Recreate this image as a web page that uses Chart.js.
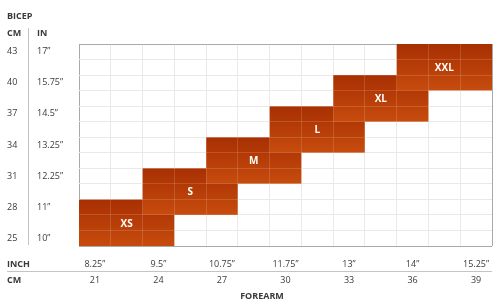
<!DOCTYPE html>
<html>
<head>
<meta charset="utf-8">
<script src="https://cdn.jsdelivr.net/npm/chart.js@4/dist/chart.umd.min.js"></script>
<style>
  html,body{margin:0;padding:0;background:#fff;}
  #c{display:block;}
</style>
</head>
<body>
<canvas id="c" width="500" height="308"></canvas>
<script>
// ---- data ----
const sizes       = ['XS', 'S', 'M', 'L', 'XL', 'XXL'];
const forearmMin  = [21, 24, 27, 30, 33, 36];
const forearmMax  = [24, 27, 30, 33, 36, 39];
const bicepMin    = [25, 28, 31, 34, 37, 40];
const bicepMax    = [28, 31, 34, 37, 40, 43];
const forearmCm   = [21, 24, 27, 30, 33, 36, 39];
const forearmIn   = ['8.25\u201D', '9.5\u201D', '10.75\u201D', '11.75\u201D', '13\u201D', '14\u201D', '15.25\u201D'];
const bicepCm     = [25, 28, 31, 34, 37, 40, 43];
const bicepIn     = ['10\u201D', '11\u201D', '12.25\u201D', '13.25\u201D', '14.5\u201D', '15.75\u201D', '17\u201D'];

const CELL = 1.5;          // cm per grid cell
const HALF = CELL / 2;
const xMin = forearmCm[0] - HALF, xMax = forearmCm[forearmCm.length - 1] + HALF;
const yMin = bicepCm[0] - HALF,   yMax = bicepCm[bicepCm.length - 1] + HALF;

const FONT = "'Open Sans', 'DejaVu Sans', sans-serif";
const TEXT = '#3a3a3a';

function cellTicks(scale) {
  const t = [];
  for (let v = scale.options.min; v <= scale.options.max + 1e-9; v += CELL) t.push({ value: v });
  scale.ticks = t;
}

function blockGradient(ctx) {
  const chart = ctx.chart;
  const i = ctx.datasetIndex;
  if (!chart.chartArea || i === undefined) return '#bb4008';
  const ys = chart.scales.y;
  const top = ys.getPixelForValue(bicepMax[i] + HALF);
  const bot = ys.getPixelForValue(bicepMin[i] - HALF);
  const g = chart.ctx.createLinearGradient(0, top, 0, bot);
  g.addColorStop(0, '#a82f02');
  g.addColorStop(1, '#c64c0e');
  return g;
}

const datasets = sizes.map((s, i) => {
  const x0 = forearmMin[i] - HALF, x1 = forearmMax[i] + HALF;
  const y0 = bicepMin[i] - HALF,   y1 = bicepMax[i] + HALF;
  return {
    label: s,
    data: [{x: x0, y: y0}, {x: x1, y: y0}, {x: x1, y: y1}, {x: x0, y: y1}, {x: x0, y: y0}],
    showLine: true,
    fill: 'shape',
    borderWidth: 0,
    borderColor: 'rgba(0,0,0,0)',
    pointRadius: 0,
    tension: 0,
    backgroundColor: blockGradient,
    order: sizes.length - i
  };
});

const decor = {
  id: 'decor',
  afterDraw(chart) {
    const ctx = chart.ctx;
    const xs = chart.scales.x, ys = chart.scales.y;
    ctx.save();
    // size labels
    ctx.fillStyle = '#ffffff';
    ctx.font = 'bold 10px ' + FONT;
    ctx.textAlign = 'center';
    ctx.textBaseline = 'middle';
    sizes.forEach((s, i) => {
      const cx = xs.getPixelForValue((forearmMin[i] + forearmMax[i]) / 2);
      const cy = ys.getPixelForValue((bicepMin[i] + bicepMax[i]) / 2);
      ctx.fillText(s, cx, cy + 1);
    });
    // titles
    ctx.fillStyle = TEXT;
    ctx.textAlign = 'left';
    ctx.font = 'bold 9px ' + FONT;
    ctx.fillText('BICEP', 7, 16);
    ctx.fillText('CM', 7, 33);
    ctx.fillText('IN', 37, 33);
    ctx.fillText('INCH', 7, 264);
    ctx.fillText('CM', 7, 280);
    ctx.textAlign = 'center';
    ctx.fillText('FOREARM', 262, 296);
    // y labels
    ctx.font = '9px ' + FONT;
    ctx.textAlign = 'left';
    bicepCm.forEach((v, i) => {
      const y = ys.getPixelForValue(v);
      ctx.fillText(String(v), 7, y);
      ctx.fillText(bicepIn[i], 37, y);
    });
    // x labels
    ctx.textAlign = 'center';
    forearmCm.forEach((v, i) => {
      const x = xs.getPixelForValue(v);
      ctx.fillText(forearmIn[i], x, 264);
      ctx.fillText(String(v), x, 280);
    });
    // separators
    ctx.strokeStyle = '#c4c4c4';
    ctx.lineWidth = 1;
    ctx.beginPath();
    ctx.moveTo(28.5, 28); ctx.lineTo(28.5, 245);
    ctx.moveTo(7, 271.5); ctx.lineTo(492, 271.5);
    ctx.stroke();
    ctx.restore();
  }
};

const baseGrid = (ctx) => {
  const s = ctx.scale;
  const v = ctx.tick && ctx.tick.value;
  if (Math.abs(v - s.options.min) < 1e-6 || Math.abs(v - s.options.max) < 1e-6) return '#a9a9a9';
  return '#e8e8e8';
};
const overGrid = (ctx) => {
  const s = ctx.scale;
  const v = ctx.tick && ctx.tick.value;
  if (Math.abs(v - s.options.min) < 1e-6 || Math.abs(v - s.options.max) < 1e-6) return 'rgba(0,0,0,0)';
  return 'rgba(255,235,220,0.16)';
};

new Chart(document.getElementById('c'), {
  type: 'scatter',
  data: { datasets },
  options: {
    responsive: false,
    devicePixelRatio: 1,
    animation: false,
    layout: { padding: { left: 79, top: 44, right: 8, bottom: 62 } },
    plugins: { legend: { display: false }, tooltip: { enabled: false } },
    scales: {
      x: {
        type: 'linear', min: xMin, max: xMax, position: 'bottom',
        ticks: { display: false }, border: { display: false },
        grid: { color: baseGrid, drawTicks: false, lineWidth: 1 },
        afterBuildTicks: cellTicks
      },
      y: {
        type: 'linear', min: yMin, max: yMax, position: 'left',
        ticks: { display: false }, border: { display: false },
        grid: { color: baseGrid, drawTicks: false, lineWidth: 1 },
        afterBuildTicks: cellTicks
      },
      x2: {
        type: 'linear', min: xMin, max: xMax, position: 'bottom',
        ticks: { display: false }, border: { display: false },
        grid: { color: overGrid, drawTicks: false, lineWidth: 1, z: 1 },
        afterBuildTicks: cellTicks
      },
      y2: {
        type: 'linear', min: yMin, max: yMax, position: 'left',
        ticks: { display: false }, border: { display: false },
        grid: { color: overGrid, drawTicks: false, lineWidth: 1, z: 1 },
        afterBuildTicks: cellTicks
      }
    }
  },
  plugins: [decor]
});
</script>
</body>
</html>
